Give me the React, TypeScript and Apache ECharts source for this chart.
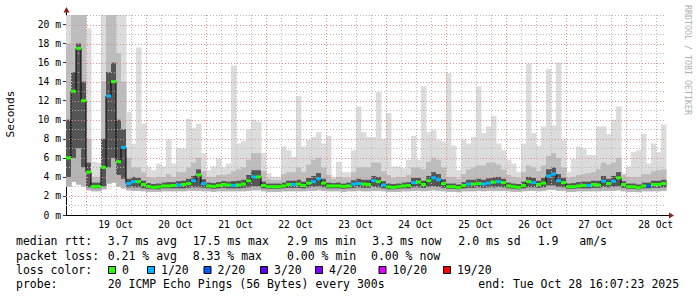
import React, { useEffect, useRef } from 'react';
import * as echarts from 'echarts';

// ---- data (2-hour steps from Oct 18 16:07:23 to Oct 28 16:07:23) ----
const STEP_H = 2;
const FIRST_MIDNIGHT_H = 7.8769; // hours from start to 19 Oct 00:00
const dayLabels = ['19 Oct', '20 Oct', '21 Oct', '22 Oct', '23 Oct', '24 Oct', '25 Oct', '26 Oct', '27 Oct', '28 Oct'];
const yTickValues = [0, 2, 4, 6, 8, 10, 12, 14, 16, 18, 20];

const medianMs = [
  6, 13, 17.5, 12, 4.5, 3.0, 3.0, 5.0, 12.5, 14,
  5.6, 7.1, 3.3, 3.5, 3.5, 3.2, 3.0, 2.9, 2.95, 3.05,
  3.05, 3.1, 3.15, 3.2, 3.3, 3.6, 4.2, 3.3, 3.05, 3.0,
  3.1, 3.2, 3.15, 3.1, 3.15, 3.25, 3.6, 4.0, 4.0, 3.1,
  2.97, 2.97, 2.97, 3.05, 3.2, 3.2, 3.25, 3.1, 3.35, 3.5,
  3.8, 3.35, 3.05, 3.05, 3.05, 3.0, 3.05, 3.25, 3.3, 3.25,
  3.2, 3.6, 3.5, 3.15, 2.95, 2.9, 2.97, 3.05, 3.1, 3.4,
  3.45, 3.2, 3.6, 3.9, 3.7, 3.3, 2.97, 2.97, 2.87, 3.1,
  3.25, 3.25, 3.3, 3.25, 3.35, 3.45, 3.5, 3.4, 3.05, 2.97,
  2.9, 3.1, 3.5, 3.4, 3.2, 3.35, 4.1, 4.3, 3.6, 3.4,
  2.97, 2.97, 3.05, 3.1, 3.1, 3.2, 3.15, 3.55, 3.3, 3.55,
  3.9, 3.2, 2.97, 2.97, 2.87, 3.05, 3.05, 3.2, 3.2, 3.3,
];

const lossLevel = [
  0, 0, 0, 0, 0, 0, 0, 0, 1, 0,
  0, 1, 1, 1, 0, 0, 0, 0, 0, 0,
  0, 0, 1, 0, 0, 1, 0, 1, 0, 0,
  0, 0, 0, 1, 0, 0, 0, 1, 0, 0,
  0, 0, 0, 0, 0, 1, 0, 0, 0, 1,
  1, 0, 0, 0, 0, 0, 0, 1, 1, 0,
  0, 1, 0, 1, 0, 0, 0, 0, 0, 1,
  0, 0, 0, 1, 1, 0, 0, 0, 0, 0,
  1, 0, 0, 1, 1, 0, 1, 0, 0, 0,
  0, 0, 0, 1, 0, 0, 1, 1, 1, 0,
  0, 0, 0, 0, 1, 0, 0, 1, 0, 1,
  0, 0, 0, 0, 0, 0, 2, 0, 0, 0,
];

const smokeLo = [
  3.0, 3.5, 3.2, 3.0, 2.6, 2.5, 2.5, 2.7, 3.3, 3.4,
  3.0, 2.8, 2.6, 2.55, 2.55, 2.5, 2.45, 2.45, 2.45, 2.5,
  2.5, 2.5, 2.5, 2.5, 2.55, 2.55, 2.55, 2.5, 2.5, 2.45,
  2.5, 2.5, 2.5, 2.5, 2.5, 2.5, 2.55, 2.6, 2.6, 2.5,
  2.45, 2.45, 2.45, 2.5, 2.5, 2.5, 2.5, 2.5, 2.55, 2.55,
  2.6, 2.55, 2.5, 2.5, 2.5, 2.45, 2.5, 2.5, 2.55, 2.5,
  2.5, 2.55, 2.55, 2.5, 2.45, 2.45, 2.45, 2.5, 2.5, 2.55,
  2.55, 2.5, 2.55, 2.6, 2.55, 2.5, 2.45, 2.45, 2.4, 2.5,
  2.5, 2.5, 2.55, 2.5, 2.55, 2.55, 2.55, 2.55, 2.5, 2.45,
  2.45, 2.5, 2.55, 2.55, 2.5, 2.55, 2.65, 2.65, 2.55, 2.55,
  2.45, 2.45, 2.5, 2.5, 2.5, 2.5, 2.5, 2.55, 2.55, 2.55,
  2.6, 2.5, 2.45, 2.45, 2.4, 2.5, 2.5, 2.5, 2.5, 2.55,
];

const smokeQ1 = [
  4.0, 6.0, 7.0, 5.0, 2.9, 2.8, 2.8, 3.0, 5.0, 6.0,
  4.2, 3.8, 2.9, 2.9, 2.9, 2.8, 2.75, 2.7, 2.7, 2.8,
  2.8, 2.8, 2.8, 2.8, 2.85, 2.9, 2.9, 2.85, 2.8, 2.75,
  2.8, 2.85, 2.8, 2.8, 2.8, 2.85, 2.9, 3.0, 3.0, 2.8,
  2.75, 2.75, 2.75, 2.8, 2.85, 2.85, 2.85, 2.8, 2.9, 2.95,
  3.0, 2.9, 2.8, 2.8, 2.8, 2.75, 2.8, 2.85, 2.9, 2.85,
  2.85, 2.95, 2.9, 2.8, 2.7, 2.7, 2.75, 2.8, 2.8, 2.9,
  2.9, 2.85, 2.95, 3.0, 2.95, 2.85, 2.75, 2.75, 2.7, 2.8,
  2.85, 2.85, 2.9, 2.85, 2.9, 2.9, 2.95, 2.9, 2.8, 2.75,
  2.7, 2.8, 2.9, 2.9, 2.85, 2.9, 3.1, 3.1, 2.95, 2.9,
  2.75, 2.75, 2.8, 2.8, 2.8, 2.85, 2.85, 2.95, 2.9, 2.95,
  3.0, 2.85, 2.75, 2.75, 2.7, 2.8, 2.8, 2.85, 2.85, 2.9,
];

const smokeQ3 = [
  10, 15, 18, 14, 5.5, 3.4, 3.4, 8, 15, 16,
  10, 9, 3.8, 4.0, 3.9, 3.6, 3.35, 3.25, 3.3, 3.4,
  3.45, 3.45, 3.55, 3.6, 3.8, 4.1, 4.8, 3.75, 3.4, 3.35,
  3.45, 3.55, 3.5, 3.55, 3.6, 3.7, 4.2, 4.7, 4.7, 3.5,
  3.3, 3.3, 3.3, 3.4, 3.6, 3.6, 3.7, 3.5, 3.9, 4.1,
  4.4, 3.8, 3.4, 3.35, 3.4, 3.3, 3.4, 3.65, 3.8, 3.7,
  3.7, 4.1, 4.0, 3.55, 3.3, 3.25, 3.3, 3.4, 3.45, 3.9,
  3.9, 3.6, 4.1, 4.5, 4.3, 3.75, 3.3, 3.3, 3.2, 3.45,
  3.7, 3.7, 3.8, 3.7, 3.85, 3.95, 4.0, 3.8, 3.4, 3.3,
  3.25, 3.5, 4.0, 3.9, 3.6, 3.9, 4.8, 5.0, 4.3, 3.9,
  3.3, 3.35, 3.45, 3.5, 3.5, 3.6, 3.6, 4.1, 3.8, 4.1,
  4.5, 3.55, 3.3, 3.3, 3.2, 3.4, 3.4, 3.6, 3.6, 3.7,
];

const smokeHi = [
  18, 21, 22, 21, 8, 4.0, 4.0, 14, 21, 21,
  17, 14, 6.0, 5.0, 5.0, 4.5, 4.0, 3.9, 4.0, 4.0,
  4.3, 4.0, 4.5, 4.5, 5.0, 5.5, 6.0, 4.6, 4.0, 4.0,
  4.2, 4.2, 4.3, 4.6, 4.8, 5.0, 5.8, 6.5, 6.5, 4.6,
  3.8, 3.7, 3.7, 4.3, 4.5, 4.5, 5.0, 4.5, 5.3, 5.8,
  6.0, 5.0, 4.2, 3.8, 4.0, 3.9, 3.9, 4.5, 5.0, 5.0,
  5.0, 5.5, 5.5, 4.6, 4.2, 3.9, 4.0, 4.0, 4.2, 5.0,
  5.0, 4.8, 5.6, 6.0, 5.8, 5.0, 4.0, 4.0, 3.8, 4.3,
  4.8, 5.0, 5.2, 5.2, 5.5, 5.5, 5.3, 4.8, 4.2, 4.0,
  3.9, 4.5, 5.2, 5.0, 4.6, 5.2, 6.2, 6.5, 6.0, 5.0,
  3.9, 4.0, 4.2, 4.3, 4.4, 4.5, 4.8, 5.5, 5.3, 5.5,
  6.0, 4.2, 4.0, 4.0, 4.0, 4.3, 4.3, 4.6, 4.7, 4.8,
];

const smokeMax = [
  24, 24, 24, 24, 19.6, 5.6, 5.5, 24, 24, 24,
  24, 24, 10.8, 7.5, 17.6, 9.6, 5.1, 4.7, 5.4, 5.1,
  7.9, 5.4, 7.0, 7.0, 10.1, 9.1, 9.6, 6.5, 4.7, 5.1,
  5.9, 5.0, 5.4, 15.7, 7.5, 7.8, 9.0, 10.0, 9.8, 6.5,
  4.4, 4.0, 4.0, 7.2, 6.8, 6.1, 12.5, 7.2, 7.9, 8.2,
  8.7, 7.5, 8.3, 4.0, 5.6, 4.5, 4.5, 6.8, 11.4, 8.7,
  8.2, 8.2, 12.9, 8.0, 10.7, 5.1, 5.1, 4.9, 5.8, 8.3,
  5.8, 13.5, 8.7, 8.9, 7.9, 7.7, 14.9, 7.3, 4.7, 7.9,
  7.5, 8.2, 13.5, 8.6, 9.3, 10.4, 7.5, 6.8, 5.8, 5.4,
  4.5, 7.5, 15.9, 8.6, 7.3, 9.3, 15.3, 9.4, 16.0, 7.9,
  4.5, 5.9, 7.2, 7.0, 6.3, 6.3, 9.3, 9.3, 8.5, 10.0,
  11.4, 4.4, 5.1, 6.6, 6.8, 8.5, 5.4, 7.5, 6.6, 9.5,
];

const lossColors = ['#26ff00', '#00b8ff', '#0059ff', '#5e00ff', '#7e00ff', '#dd00ff', '#ff0000'];
const lossLabels = ['0', '1/20', '2/20', '3/20', '4/20', '10/20', '19/20'];
const rttStats = ['3.7 ms avg', '17.5 ms max', '2.9 ms min', '3.3 ms now', '2.0 ms sd', '1.9', 'am/s'];
const lossStats = ['0.21 % avg', '8.33 % max', '0.00 % min', '0.00 % now'];
const probeText = '20 ICMP Echo Pings (56 Bytes) every 300s';
const endText = 'end: Tue Oct 28 16:07:23 2025';

// ---- styling ----
const MONO = '"DejaVu Sans Mono", monospace';
const Y_MAX = 21;
const X_MAX = 240;
const SMOKE_FILL = ['#dcdcdc', '#bdbdbd', '#b4b4b4', '#555555'];
const GRID_MAJOR = '#e08c8c';
const GRID_MINOR = '#b8b8b8';
const GRID_DASH = [1, 2];

function buildOption() {
  const hours = medianMs.map((_, i) => i * STEP_H + STEP_H / 2);
  const smokeData = hours.map((t, i) => [t, smokeLo[i], smokeQ1[i], smokeQ3[i], smokeHi[i], smokeMax[i]]);
  const medianData = hours.map((t, i) => [t, medianMs[i]]);
  const markData = hours.map((t, i) => [t, medianMs[i], lossLevel[i]]);
  const noonValues = dayLabels.map((_, k) => FIRST_MIDNIGHT_H + 12 + 24 * k);

  // grid lines: [value, kind] kind 0 v-minor, 1 v-major, 2 h-minor, 3 h-major
  const gridData: number[][] = [];
  for (let h = FIRST_MIDNIGHT_H - 6; h < X_MAX; h += 6) {
    const r = (h - FIRST_MIDNIGHT_H) / 24;
    const major = Math.abs(r - Math.round(r)) < 1e-6;
    gridData.push([h, major ? 1 : 0]);
  }
  for (let v = 1; v <= Y_MAX; v++) gridData.push([v, v % 2 === 0 ? 3 : 2]);

  const graphics: any[] = [];
  const txt = (text: string, x: number, y: number, size = 11.5, extra: any = {}, fill = '#000') => ({
    type: 'text', x, y, silent: true,
    style: { text, x: 0, y: 0, fontSize: size, fontFamily: MONO, fill, textVerticalAlign: 'middle', verticalAlign: 'middle', textAlign: extra.align || 'left', align: extra.align || 'left' },
    rotation: extra.rotation || 0,
  });

  // axis extensions & arrows
  graphics.push({ type: 'line', silent: true, shape: { x1: 666, y1: 215.5, x2: 670, y2: 215.5 }, style: { stroke: '#000', lineWidth: 1 } });
  graphics.push({ type: 'line', silent: true, shape: { x1: 66.5, y1: 15, x2: 66.5, y2: 11 }, style: { stroke: '#000', lineWidth: 1 } });
  graphics.push({ type: 'polygon', silent: true, shape: { points: [[669, 212.5], [674, 215.5], [669, 218.5]] }, style: { fill: '#901c1c' } });
  graphics.push({ type: 'polygon', silent: true, shape: { points: [[63.5, 12.5], [66.5, 7], [69.5, 12.5]] }, style: { fill: '#901c1c' } });

  // titles
  graphics.push(txt('Seconds', 10.5, 114, 11.2, { align: 'center', rotation: Math.PI / 2 }));
  graphics.push(txt('RRDTOOL / TOBI OETIKER', 687.5, 60, 8.3, { align: 'center', rotation: -Math.PI / 2 }, '#b0b0b0'));

  // legend lines
  const rowY = [240.7, 255.6, 269.6, 284.1];
  graphics.push(txt('median rtt:', 16, rowY[0]));
  const rttX = [107.7, 192.7, 287, 372.3, 458.3, 537.7, 579.3];
  rttStats.forEach((s, i) => graphics.push(txt(s, rttX[i], rowY[0])));
  graphics.push(txt('packet loss:', 16, rowY[1]));
  const lossX = [107.7, 192.7, 287, 371];
  lossStats.forEach((s, i) => graphics.push(txt(s, lossX[i], rowY[1])));
  graphics.push(txt('loss color:', 16, rowY[2]));
  const boxX = [108, 147, 203.5, 260, 315, 378.5, 443];
  lossLabels.forEach((s, i) => {
    graphics.push({ type: 'rect', silent: true, shape: { x: boxX[i] + 0.5, y: 266.5, width: 7, height: 7 }, style: { fill: lossColors[i], stroke: '#000', lineWidth: 1 } });
    graphics.push(txt(s, boxX[i] + 14, rowY[2]));
  });
  graphics.push(txt('probe:', 16, rowY[3]));
  graphics.push(txt(probeText, 107.7, rowY[3]));
  graphics.push(txt(endText, 478.3, rowY[3]));

  return {
    animation: false,
    backgroundColor: '#ffffff',
    grid: { left: 66, right: 31, top: 15, bottom: 82, containLabel: false, outerBoundsMode: 'none' },
    xAxis: {
      type: 'value', min: 0, max: X_MAX,
      splitLine: { show: false },
      axisTick: { show: false },
      axisLine: { show: true, lineStyle: { color: '#000', width: 1 } },
      axisLabel: {
        customValues: noonValues,
        margin: 4,
        color: '#000', fontFamily: MONO, fontSize: 9.7,
        formatter: (v: number) => dayLabels[Math.round((v - noonValues[0]) / 24)] || '',
      },
    },
    yAxis: {
      type: 'value', min: 0, max: Y_MAX,
      splitLine: { show: false },
      axisLine: { show: true, lineStyle: { color: '#000', width: 1 } },
      axisTick: { show: true, customValues: yTickValues, length: 3, lineStyle: { color: '#333' } },
      axisLabel: {
        customValues: yTickValues,
        margin: 5,
        color: '#000', fontFamily: MONO, fontSize: 9.7,
        formatter: (v: number) => `${v} m`,
      },
    },
    graphic: { elements: graphics },
    series: [
      {
        type: 'custom', name: 'smoke', z: 1, silent: true,
        data: smokeData,
        encode: { x: 0, y: [1, 2, 3, 4, 5] },
        renderItem: (params: any, api: any) => {
          const t = api.value(0);
          const lo = Math.min(api.value(1), Y_MAX);
          const q1 = Math.min(api.value(2), Y_MAX);
          const q3 = Math.min(api.value(3), Y_MAX);
          const hi = Math.min(api.value(4), Y_MAX);
          const mx = Math.min(api.value(5), Y_MAX);
          const xL = api.coord([t - STEP_H / 2, 0])[0];
          const xR = api.coord([t + STEP_H / 2, 0])[0];
          const w = xR - xL + 0.5;
          const band = (a: number, b: number, fill: string) => {
            const yB = api.coord([t, a])[1];
            const yT = api.coord([t, b])[1];
            return { type: 'rect', shape: { x: xL, y: yT, width: w, height: Math.max(0, yB - yT) }, style: { fill } };
          };
          return {
            type: 'group',
            children: [
              band(lo, mx, SMOKE_FILL[0]),
              band(lo, hi, SMOKE_FILL[1]),
              band(lo, q1, SMOKE_FILL[2]),
              band(q1, q3, SMOKE_FILL[3]),
            ],
          };
        },
      },
      {
        type: 'custom', name: 'grid', z: 2, silent: true,
        data: gridData,
        encode: { x: 0 },
        renderItem: (params: any, api: any) => {
          const cs = params.coordSys;
          const v = api.value(0);
          const kind = api.value(1);
          if (kind < 2) {
            const x = Math.round(api.coord([v, 0])[0]) + 0.5;
            return { type: 'line', shape: { x1: x, y1: cs.y, x2: x, y2: cs.y + cs.height }, style: { stroke: kind === 1 ? GRID_MAJOR : GRID_MINOR, lineWidth: 1, lineDash: GRID_DASH, fill: null } };
          }
          const y = Math.round(api.coord([0, v])[1]) + 0.5;
          return { type: 'line', shape: { x1: cs.x, y1: y, x2: cs.x + cs.width, y2: y }, style: { stroke: kind === 3 ? GRID_MAJOR : GRID_MINOR, lineWidth: 1, lineDash: GRID_DASH, fill: null } };
        },
      },
      {
        type: 'line', name: 'median', z: 5, silent: true,
        data: medianData, step: 'middle', symbol: 'none',
        lineStyle: { color: '#000', width: 1 },
      },
      {
        type: 'custom', name: 'loss', z: 6, silent: true,
        data: markData,
        encode: { x: 0, y: 1 },
        renderItem: (params: any, api: any) => {
          const t = api.value(0);
          const m = api.value(1);
          const loss = api.value(2);
          const xL = api.coord([t - STEP_H / 2, m])[0];
          const xR = api.coord([t + STEP_H / 2, m])[0];
          const y = api.coord([t, m])[1];
          return { type: 'rect', shape: { x: xL, y: y - 1.5, width: xR - xL, height: 3 }, style: { fill: lossColors[loss] } };
        },
      },
    ],
  };
}

export default function App() {
  const ref = useRef<HTMLDivElement>(null);
  useEffect(() => {
    const chart = echarts.init(ref.current as HTMLDivElement, null, { renderer: 'svg' });
    chart.setOption(buildOption() as any);
    return () => chart.dispose();
  }, []);
  return <div ref={ref} style={{ position: 'fixed', left: 0, top: 0, width: 697, height: 297, background: '#fff' }} />;
}
